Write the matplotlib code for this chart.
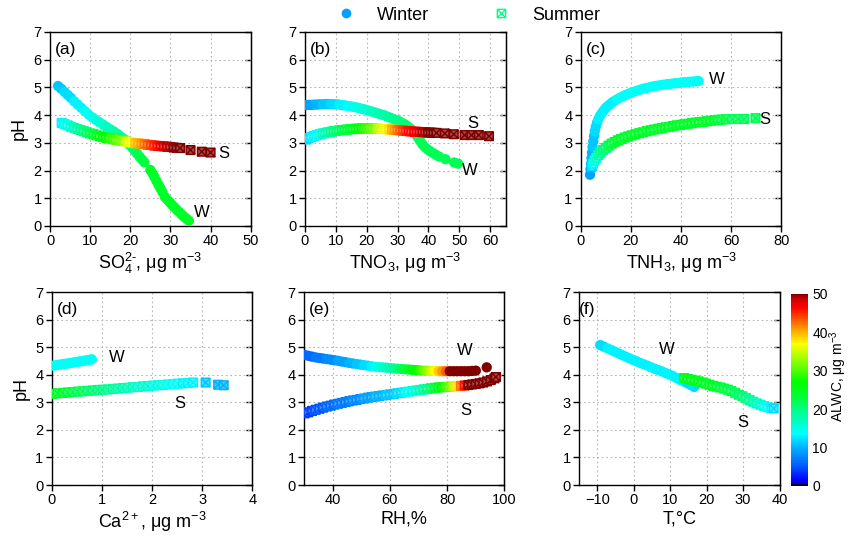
import numpy as np
import matplotlib.pyplot as plt
from matplotlib.colors import LinearSegmentedColormap, Normalize
from matplotlib.path import Path
from matplotlib.lines import Line2D
import matplotlib.cm as cm

plt.rcParams['font.family'] = ['Liberation Sans', 'DejaVu Sans']
plt.rcParams['mathtext.fontset'] = 'custom'
plt.rcParams['mathtext.rm'] = 'Liberation Sans'
plt.rcParams['mathtext.it'] = 'Liberation Sans:italic'
plt.rcParams['mathtext.bf'] = 'Liberation Sans:bold'

# ---------------- data ----------------
# (a) pH vs SO4
so4_w = [2.0, 2.8, 3.6, 4.4, 5.2, 6.0, 6.9, 7.8, 8.7, 9.6, 10.5, 11.4, 12.3, 13.2, 14.1, 15.0,
         15.9, 16.8, 17.6, 18.4, 19.2, 19.9, 20.5, 21.1, 21.7, 22.3, 22.9, 23.5, 25.0, 25.5,
         26.0, 26.5, 27.0, 27.5, 28.0, 28.6, 29.2, 29.8, 30.4, 31.0, 31.6, 32.2, 32.8, 33.4, 34.0, 34.6]
ph_so4_w = [5.05, 4.95, 4.84, 4.73, 4.62, 4.50, 4.38, 4.26, 4.14, 4.02, 3.92, 3.83, 3.74, 3.66, 3.57, 3.49,
            3.41, 3.32, 3.23, 3.14, 3.04, 2.92, 2.82, 2.71, 2.61, 2.50, 2.40, 2.30, 2.02, 1.90,
            1.77, 1.63, 1.49, 1.36, 1.22, 1.05, 0.95, 0.86, 0.76, 0.67, 0.58, 0.50, 0.41, 0.33, 0.26, 0.19]
alwc_so4_w = [11, 11, 12, 12, 12, 13, 13, 13, 14, 14, 15, 15, 16, 16, 17, 17,
              18, 18, 19, 19, 20, 20, 21, 21, 22, 22, 23, 23, 24, 24,
              24, 24, 24, 24, 24, 24, 24, 24, 24, 24, 24, 24, 24, 24, 24, 24]
so4_s = [2.9, 3.6, 4.4, 5.2, 6.0, 6.8, 7.6, 8.4, 9.2, 10.0, 10.8, 11.6, 12.4, 13.2, 14.0, 14.8,
         15.6, 16.4, 17.2, 18.0, 18.8, 19.6, 20.4, 21.2, 22.0, 22.8, 23.6, 24.4, 25.2, 26.0,
         26.8, 27.6, 28.4, 29.2, 30.0, 30.8, 31.6, 32.4, 35.0, 37.8, 40.0]
ph_so4_s = [3.72, 3.68, 3.63, 3.58, 3.54, 3.50, 3.46, 3.42, 3.38, 3.34, 3.31, 3.27, 3.24, 3.21, 3.18, 3.16,
            3.13, 3.11, 3.09, 3.07, 3.05, 3.03, 3.01, 2.99, 2.98, 2.96, 2.95, 2.93, 2.92, 2.90,
            2.89, 2.88, 2.87, 2.86, 2.85, 2.83, 2.82, 2.81, 2.74, 2.68, 2.65]
alwc_so4_s = [13, 14, 15, 16, 17, 18, 19, 20, 21, 22, 23, 24, 25, 26, 27, 28,
              29, 30, 31, 32, 34, 36, 37, 39, 40, 41, 42, 43, 44, 45,
              46, 47, 48, 49, 49, 50, 50, 50, 50, 50, 50]

# (b) pH vs TNO3
tno3_w = [0.3, 1.2, 2.1, 3.0, 3.9, 4.8, 5.7, 6.6, 7.5, 8.4, 9.3, 10.2, 11.1, 12.0, 12.9, 13.8, 14.7,
          15.6, 16.5, 17.4, 18.3, 19.2, 20.1, 21.0, 21.9, 22.8, 23.7, 24.6, 25.5, 26.4, 27.3, 28.2,
          29.1, 30.0, 30.8, 31.6, 32.4, 33.2, 34.0, 34.8, 35.6, 36.4, 37.2, 38.0, 38.8, 39.6, 40.5,
          41.5, 42.5, 43.5, 45.5, 48.3, 49.6]
ph_tno3_w = [4.36, 4.37, 4.37, 4.38, 4.38, 4.39, 4.39, 4.40, 4.40, 4.40, 4.39, 4.39, 4.38, 4.36, 4.35, 4.33, 4.32,
             4.30, 4.28, 4.26, 4.23, 4.21, 4.18, 4.15, 4.12, 4.09, 4.06, 4.03, 4.00, 3.96, 3.92, 3.88,
             3.84, 3.80, 3.76, 3.71, 3.66, 3.60, 3.53, 3.45, 3.35, 3.22, 3.08, 2.95, 2.85, 2.77, 2.70,
             2.63, 2.56, 2.50, 2.41, 2.29, 2.25]
alwc_tno3_w = [9, 9, 9, 10, 10, 10, 11, 11, 11, 12, 12, 12, 13, 13, 13, 14, 14,
               14, 15, 15, 15, 16, 16, 16, 17, 17, 17, 18, 18, 18, 19, 19,
               19, 20, 20, 20, 21, 21, 21, 22, 22, 22, 22, 22, 22, 22, 22,
               22, 22, 22, 22, 22, 22]
tno3_s = [0.3, 1.2, 2.1, 3.0, 3.9, 4.8, 5.7, 6.6, 7.5, 8.4, 9.3, 10.2, 11.1, 12.0, 12.9, 13.8, 14.7,
          15.6, 16.5, 17.4, 18.3, 19.2, 20.1, 21.0, 21.9, 22.8, 23.7, 24.6, 25.5, 26.4, 27.3, 28.2,
          29.1, 30.0, 30.9, 31.8, 32.7, 33.6, 34.5, 35.4, 36.3, 37.2, 38.1, 39.0, 39.9, 40.8, 41.7,
          42.6, 45.3, 48.2, 51.7, 53.9, 56.3, 59.6]
ph_tno3_s = [3.12, 3.17, 3.21, 3.25, 3.28, 3.31, 3.34, 3.36, 3.38, 3.40, 3.42, 3.43, 3.45, 3.46, 3.47, 3.48, 3.49,
             3.50, 3.51, 3.51, 3.52, 3.52, 3.52, 3.52, 3.52, 3.51, 3.51, 3.50, 3.50, 3.49, 3.48, 3.48,
             3.47, 3.46, 3.45, 3.44, 3.43, 3.42, 3.41, 3.40, 3.40, 3.39, 3.39, 3.38, 3.37, 3.37, 3.36,
             3.36, 3.34, 3.31, 3.28, 3.28, 3.28, 3.24]
alwc_tno3_s = [12, 12, 13, 13, 14, 15, 16, 17, 18, 19, 20, 21, 21, 22, 23, 23, 24,
               24, 25, 26, 27, 28, 29, 30, 31, 32, 34, 35, 36, 37, 38, 40,
               41, 42, 43, 44, 45, 46, 46, 47, 47, 48, 49, 49, 50, 50, 50,
               50, 50, 50, 50, 50, 50, 50]

# (c) pH vs TNH3
tnh3_w = [3.7, 3.9, 4.1, 4.3, 4.5, 4.7, 5.0, 5.3, 5.6, 6.0, 6.5, 7.0, 7.6, 8.3, 9.0, 9.8, 10.6,
          11.5, 12.4, 13.4, 14.5, 15.6, 16.8, 18.0, 19.3, 20.6, 22.0, 23.4, 24.8, 26.2, 27.6, 29.0,
          30.4, 31.8, 33.2, 34.6, 36.0, 37.4, 38.8, 40.2, 41.6, 43.0, 44.4, 45.8, 47.0]
ph_tnh3_w = [1.85, 2.05, 2.25, 2.45, 2.65, 2.85, 3.05, 3.25, 3.42, 3.58, 3.73, 3.85, 3.96, 4.06, 4.15, 4.24, 4.31,
             4.38, 4.45, 4.51, 4.57, 4.63, 4.68, 4.73, 4.78, 4.83, 4.87, 4.91, 4.95, 4.98, 5.01, 5.04,
             5.06, 5.08, 5.10, 5.12, 5.13, 5.15, 5.16, 5.18, 5.19, 5.20, 5.21, 5.22, 5.23]
alwc_tnh3_w = [9, 9, 10, 10, 10, 11, 11, 11, 12, 12, 12, 13, 13, 13, 13, 13, 13,
               13, 13, 13, 14, 14, 14, 14, 14, 14, 14, 14, 14, 14, 14, 14,
               14, 14, 14, 14, 14, 14, 14, 14, 14, 14, 14, 14, 14]
tnh3_s = [4.4, 4.9, 5.5, 6.2, 7.0, 7.9, 8.9, 10.0, 11.1, 12.3, 13.5, 14.8, 16.1, 17.5, 18.9, 20.3,
          21.8, 23.3, 24.8, 26.3, 27.8, 29.3, 30.8, 32.3, 33.8, 35.3, 36.8, 38.3, 39.8, 41.3, 42.8,
          44.3, 45.8, 47.3, 48.8, 50.3, 51.8, 53.3, 54.8, 56.3, 58.0, 60.4, 62.7, 65.1, 69.7]
ph_tnh3_s = [2.15, 2.25, 2.36, 2.46, 2.56, 2.65, 2.74, 2.82, 2.90, 2.97, 3.03, 3.09, 3.14, 3.19, 3.23, 3.27,
             3.31, 3.35, 3.38, 3.42, 3.45, 3.48, 3.51, 3.53, 3.56, 3.58, 3.61, 3.63, 3.65, 3.67, 3.69,
             3.71, 3.73, 3.75, 3.76, 3.78, 3.80, 3.81, 3.83, 3.84, 3.85, 3.86, 3.86, 3.86, 3.89]
alwc_tnh3_s = [12, 13, 15, 16, 18, 19, 20, 21, 22, 23, 23, 24, 24, 24, 24, 24,
               24, 24, 24, 24, 24, 24, 24, 24, 24, 24, 24, 24, 24, 24, 24,
               24, 24, 24, 24, 24, 24, 24, 23, 23, 23, 22, 22, 22, 22]

# (d) pH vs Ca2+
ca_w = [0.02, 0.07, 0.12, 0.17, 0.22, 0.27, 0.32, 0.37, 0.42, 0.47, 0.52, 0.57, 0.62, 0.67, 0.72, 0.77, 0.80]
ph_ca_w = [4.33, 4.34, 4.36, 4.37, 4.39, 4.40, 4.41, 4.43, 4.44, 4.46, 4.47, 4.49, 4.50, 4.52, 4.53, 4.55, 4.56]
alwc_ca_w = [14, 14, 14, 14, 14, 14, 14, 14, 14, 14, 14, 14, 14, 14, 14, 14, 14]
ca_s = [0.02, 0.12, 0.22, 0.32, 0.42, 0.52, 0.62, 0.72, 0.82, 0.92, 1.02, 1.12, 1.22, 1.32, 1.42, 1.52,
        1.62, 1.72, 1.82, 1.92, 2.02, 2.12, 2.22, 2.32, 2.42, 2.52, 2.62, 2.72, 2.82, 3.07, 3.32, 3.43]
ph_ca_s = [3.31, 3.33, 3.34, 3.36, 3.37, 3.39, 3.40, 3.42, 3.43, 3.45, 3.46, 3.47, 3.49, 3.50, 3.52, 3.53,
           3.55, 3.56, 3.58, 3.59, 3.61, 3.62, 3.63, 3.65, 3.66, 3.68, 3.69, 3.70, 3.72, 3.72, 3.64, 3.62]
alwc_ca_s = [25, 24, 24, 23, 23, 22, 22, 21, 21, 20, 20, 19, 19, 18, 18, 17,
             17, 16, 16, 16, 15, 15, 15, 14, 14, 14, 13, 13, 13, 11, 10, 10]

# (e) pH vs RH
rh_w = [30.2, 31.5, 32.8, 34.1, 35.4, 36.7, 38.0, 39.3, 40.6, 41.9, 43.2, 44.5, 45.8, 47.1, 48.4, 49.7,
        51.0, 52.3, 53.6, 54.9, 56.2, 57.5, 58.8, 60.1, 61.4, 62.7, 64.0, 65.3, 66.6, 67.9, 69.2, 70.5,
        71.8, 73.1, 74.4, 75.7, 77.0, 78.3, 79.6, 80.9, 82.2, 83.5, 84.8, 86.1, 87.4, 88.7, 90.0, 93.8]
ph_rh_w = [4.72, 4.69, 4.66, 4.63, 4.61, 4.59, 4.57, 4.55, 4.53, 4.51, 4.48, 4.46, 4.43, 4.41, 4.39, 4.37,
           4.35, 4.33, 4.31, 4.29, 4.28, 4.27, 4.26, 4.24, 4.23, 4.22, 4.21, 4.20, 4.19, 4.18, 4.17, 4.16,
           4.15, 4.15, 4.14, 4.14, 4.13, 4.13, 4.13, 4.13, 4.13, 4.13, 4.13, 4.13, 4.13, 4.14, 4.15, 4.27]
alwc_rh_w = [6, 6, 6, 7, 7, 7, 8, 8, 8, 9, 9, 9, 10, 10, 11, 11,
             12, 12, 13, 14, 15, 16, 17, 18, 19, 20, 22, 23, 24, 26, 27, 29,
             31, 33, 35, 37, 39, 41, 43, 50, 50, 50, 50, 50, 50, 50, 50, 50]
rh_s = [30.2, 31.5, 32.8, 34.1, 35.4, 36.7, 38.0, 39.3, 40.6, 41.9, 43.2, 44.5, 45.8, 47.1, 48.4, 49.7,
        51.0, 52.3, 53.6, 54.9, 56.2, 57.5, 58.8, 60.1, 61.4, 62.7, 64.0, 65.3, 66.6, 67.9, 69.2, 70.5,
        71.8, 73.1, 74.4, 75.7, 77.0, 78.3, 79.6, 80.9, 82.2, 83.5, 84.8, 86.1, 87.4, 88.7, 90.0, 91.3,
        92.6, 93.9, 95.2, 96.5, 97.0]
ph_rh_s = [2.60, 2.64, 2.69, 2.73, 2.77, 2.81, 2.85, 2.88, 2.92, 2.95, 2.98, 3.01, 3.04, 3.07, 3.09, 3.12,
           3.14, 3.17, 3.19, 3.21, 3.23, 3.25, 3.27, 3.29, 3.31, 3.33, 3.35, 3.37, 3.39, 3.41, 3.43, 3.45,
           3.47, 3.49, 3.51, 3.53, 3.54, 3.55, 3.56, 3.57, 3.58, 3.59, 3.60, 3.61, 3.63, 3.65, 3.67, 3.69,
           3.72, 3.76, 3.81, 3.87, 3.92]
alwc_rh_s = [4, 4, 4, 5, 5, 5, 6, 6, 6, 7, 7, 7, 7, 8, 8, 8,
             9, 9, 9, 10, 10, 10, 11, 11, 11, 12, 12, 13, 14, 15, 16, 17,
             18, 20, 21, 23, 25, 27, 29, 31, 34, 38, 42, 46, 50, 50, 50, 50,
             50, 50, 50, 50, 50]

# (f) pH vs T
t_w = [-9.2, -8.2, -7.2, -6.2, -5.2, -4.2, -3.2, -2.2, -1.2, -0.2, 0.8, 1.8, 2.8, 3.8,
       4.8, 5.8, 6.8, 7.8, 8.8, 9.8, 10.8, 11.8, 12.8, 13.8, 14.8, 15.8, 16.6]
ph_t_w = [5.08, 5.02, 4.96, 4.90, 4.84, 4.78, 4.72, 4.66, 4.60, 4.54, 4.49, 4.43, 4.38, 4.33,
          4.27, 4.22, 4.17, 4.12, 4.06, 4.01, 3.95, 3.88, 3.81, 3.75, 3.69, 3.62, 3.56]
alwc_t_w = [12, 12, 13, 13, 13, 13, 13, 13, 13, 13, 13, 13, 13, 13,
            13, 13, 13, 13, 13, 13, 13, 13, 13, 13, 12, 12, 12]
t_s = [13.8, 14.8, 15.8, 16.8, 17.8, 18.8, 19.8, 20.8, 21.8, 22.8, 23.8, 24.8, 25.8,
       26.8, 27.8, 28.8, 29.8, 30.8, 31.8, 32.8, 33.8, 34.8, 35.8, 36.8, 37.8, 38.4]
ph_t_s = [3.88, 3.85, 3.82, 3.79, 3.76, 3.72, 3.68, 3.64, 3.60, 3.57, 3.54, 3.50, 3.46,
          3.41, 3.35, 3.28, 3.22, 3.15, 3.08, 3.02, 2.96, 2.91, 2.86, 2.82, 2.79, 2.78]
alwc_t_s = [25, 25, 25, 25, 25, 25, 24, 24, 24, 24, 23, 23, 23,
            22, 22, 21, 21, 20, 19, 18, 17, 16, 15, 14, 13, 12]

panel_tags = ['(a)', '(b)', '(c)', '(d)', '(e)', '(f)']
x_labels = ['SO$_4^{2\u2010}$, \u03bcg m$^{-3}$', 'TNO$_3$, \u03bcg m$^{-3}$', 'TNH$_3$, \u03bcg m$^{-3}$',
            'Ca$^{2+}$, \u03bcg m$^{-3}$', 'RH,%', 'T,\u00b0C']
x_ticks = [[0, 10, 20, 30, 40, 50], [0, 10, 20, 30, 40, 50, 60], [0, 20, 40, 60, 80],
           [0, 1, 2, 3, 4], [40, 60, 80, 100], [-10, 0, 10, 20, 30, 40]]
x_lims = [(0, 50), (0, 65), (0, 80), (0, 4), (30, 100), (-15, 40)]
# positions of the W / S annotations
w_pos = [(37.8, 0.5), (53.3, 2.0), (54.4, 5.3), (1.3, 4.64), (86.0, 4.88), (9.2, 4.92)]
s_pos = [(43.4, 2.6), (54.4, 3.7), (73.3, 3.83), (2.56, 2.97), (86.6, 2.72), (30.0, 2.28)]

winter = [(so4_w, ph_so4_w, alwc_so4_w), (tno3_w, ph_tno3_w, alwc_tno3_w), (tnh3_w, ph_tnh3_w, alwc_tnh3_w),
          (ca_w, ph_ca_w, alwc_ca_w), (rh_w, ph_rh_w, alwc_rh_w), (t_w, ph_t_w, alwc_t_w)]
summer = [(so4_s, ph_so4_s, alwc_so4_s), (tno3_s, ph_tno3_s, alwc_tno3_s), (tnh3_s, ph_tnh3_s, alwc_tnh3_s),
          (ca_s, ph_ca_s, alwc_ca_s), (rh_s, ph_rh_s, alwc_rh_s), (t_s, ph_t_s, alwc_t_s)]

# ---------------- style ----------------
cmap = LinearSegmentedColormap.from_list('alwc', [
    (0.0, (0, 0, 0)), (0.015, (0, 0, 0.85)), (0.03, (0, 0, 1)), (0.10, (0, 0.35, 1)),
    (0.20, (0, 0.7, 1)), (0.27, (0, 1, 1)), (0.38, (0, 1, 0.6)), (0.48, (0, 1, 0.15)),
    (0.54, (0, 1, 0)), (0.62, (0.4, 1, 0)), (0.74, (1, 1, 0)), (0.82, (1, 0.6, 0)),
    (0.93, (1, 0, 0)), (0.975, (0.8, 0, 0)), (1.0, (0.5, 0, 0))])
norm = Normalize(0, 50)

# square with a cross inside
box_x = Path([(-1, -1), (1, -1), (1, 1), (-1, 1), (-1, -1), (-1, -1), (1, 1), (-1, 1), (1, -1)],
             [Path.MOVETO, Path.LINETO, Path.LINETO, Path.LINETO, Path.CLOSEPOLY,
              Path.MOVETO, Path.LINETO, Path.MOVETO, Path.LINETO])

fig = plt.figure(figsize=(8.51, 5.41), dpi=100)
positions = [[0.0588, 0.5823, 0.2358, 0.3586], [0.3584, 0.5823, 0.2358, 0.3586],
             [0.6824, 0.5823, 0.2358, 0.3586], [0.0608, 0.1035, 0.2356, 0.3565],
             [0.3572, 0.1035, 0.2356, 0.3565], [0.6804, 0.1035, 0.2356, 0.3565]]

for i in range(6):
    ax = fig.add_axes(positions[i])
    xw, yw, cw = winter[i]
    xs, ys, cs = summer[i]
    ax.scatter(xw, yw, c=cw, cmap=cmap, norm=norm, s=55, marker='o', linewidths=0, zorder=3)
    edge = cmap(norm(np.array(cs)))
    face = edge.copy()
    face[:, :3] = 0.7 * edge[:, :3] + 0.3
    ax.scatter(xs, ys, marker=box_x, s=38, facecolors=face, edgecolors=edge,
               linewidths=1.1, zorder=4)

    ax.set_xlim(*x_lims[i])
    ax.set_ylim(0, 7)
    ax.set_xticks(x_ticks[i])
    ax.set_yticks(range(8))
    ax.grid(True, linestyle=(0, (1.5, 2.5)), color='#b5b5b5', linewidth=0.8)
    ax.set_axisbelow(True)
    ax.tick_params(direction='out', length=4, width=1, labelsize=10.5, pad=2)
    sec = ax.secondary_yaxis('right')
    sec.set_yticks(range(8))
    sec.tick_params(direction='in', length=4, width=1, labelright=False)
    for sp in ax.spines.values():
        sp.set_linewidth(1.0)
    ax.set_xlabel(x_labels[i], fontsize=13, labelpad=2)
    if i in (0, 3):
        ax.set_ylabel('pH', fontsize=13, labelpad=4)
    tx = 0.0 if i == 5 else 0.025
    ax.text(tx, 0.91, panel_tags[i], transform=ax.transAxes, fontsize=12.5, va='center', ha='left')
    ax.text(w_pos[i][0], w_pos[i][1], 'W', fontsize=12, ha='center', va='center')
    ax.text(s_pos[i][0], s_pos[i][1], 'S', fontsize=12, ha='center', va='center')

# colorbar
cax = fig.add_axes([0.9295, 0.1017, 0.020, 0.355])
cb = fig.colorbar(cm.ScalarMappable(norm=norm, cmap=cmap), cax=cax, ticks=[0, 10, 20, 30, 40, 50])
cb.outline.set_visible(False)
cb.ax.tick_params(length=0, labelsize=10, pad=3)
fig.text(0.9855, 0.305, 'ALWC, \u03bcg m$^{-3}$', rotation=90, fontsize=10, ha='center', va='center')

# legend
handles = [Line2D([], [], marker='o', linestyle='none', markersize=7, markeredgewidth=0,
                  color=cmap(norm(9))),
           Line2D([], [], marker=box_x, linestyle='none', markersize=6, markeredgewidth=1.0,
                  markerfacecolor='none', color=cmap(norm(20)))]
fig.legend(handles, ['Winter', 'Summer'], loc='center', bbox_to_anchor=(0.548, 0.972), ncol=2,
           frameon=False, fontsize=13, columnspacing=3.2, handletextpad=1.0, handlelength=1.5)

fig.savefig('out.png', dpi=100)
